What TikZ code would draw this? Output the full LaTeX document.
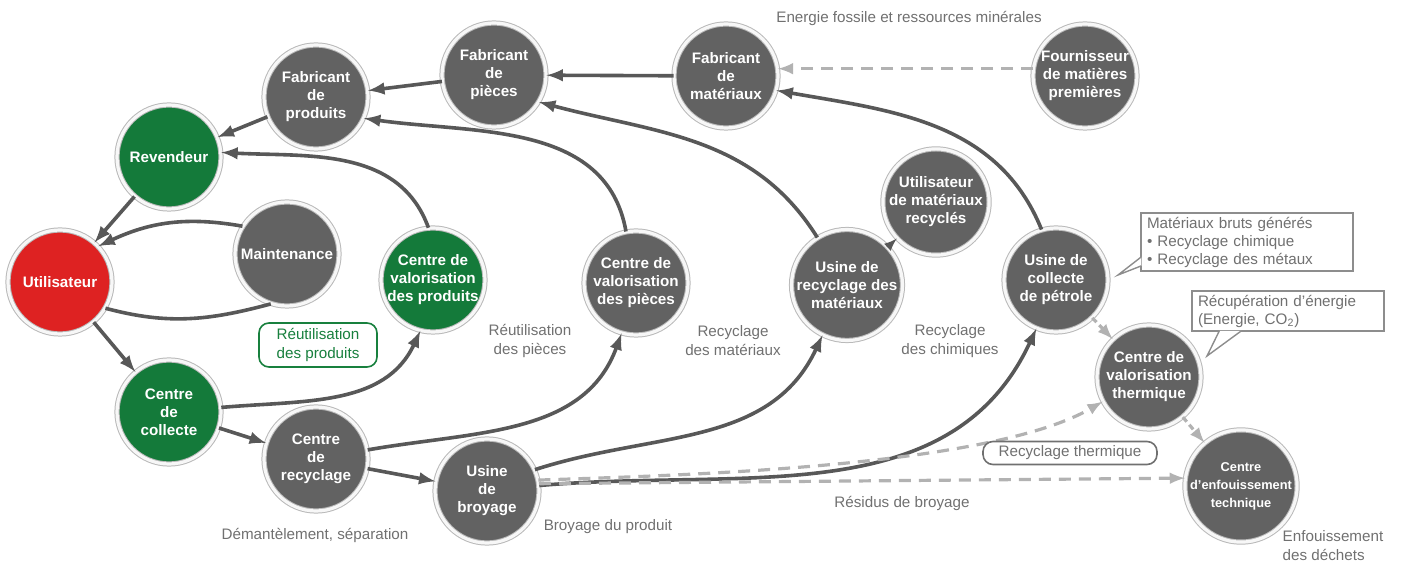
\documentclass[tikz,border=0pt]{standalone}
\usepackage{fontspec}
\setmainfont{Liberation Sans}
\usepackage{tikz}
\usetikzlibrary{arrows,calc}
\definecolor{nodegray}{RGB}{98,98,98}
\definecolor{nodegreen}{RGB}{20,122,58}
\definecolor{nodered}{RGB}{222,34,34}
\definecolor{linkgray}{RGB}{88,88,88}
\definecolor{dashgray}{RGB}{178,178,178}
\definecolor{labelgray}{RGB}{112,112,112}
\definecolor{labelgreen}{RGB}{24,128,62}
\tikzset{
  actor/.style={circle, minimum size=52pt, inner sep=0pt, fill=nodegray, draw=gray!55, line width=0.5pt, double=gray!6, double distance=1.6pt, text=white, font=\bfseries\fontsize{7.6}{9}\selectfont, align=center},
  greenactor/.style={actor, fill=nodegreen},
  redactor/.style={actor, fill=nodered},
  flow/.style={->, >=latex, color=linkgray, line width=1.8pt},
  weakflow/.style={->, >=latex, color=dashgray, line width=1.6pt, dash pattern=on 6pt off 4pt},
  note/.style={text=labelgray, font=\fontsize{7.6}{9.5}\selectfont, align=center},
  callout/.style={draw=labelgray!80, line width=0.7pt, fill=white, text=labelgray, font=\fontsize{7.6}{9}\selectfont, align=left, inner xsep=3pt, inner ysep=2pt},
  tagbox/.style={rounded corners=5pt, line width=0.8pt, fill=white, font=\fontsize{7.6}{9.5}\selectfont, align=center, inner sep=1pt}
}
\begin{document}
\begin{tikzpicture}[x=0.5pt, y=0.5pt]
\useasboundingbox (0,0) rectangle (1402,562);
\node[actor] (fabprod) at (316,465) {Fabricant\\de\\produits};
\node[actor] (fabpieces) at (494,487) {Fabricant\\de\\pièces};
\node[actor] (fabmat) at (726,486) {Fabricant\\de\\matériaux};
\node[actor] (fournisseur) at (1085,486) {Fournisseur\\de matières\\premières};
\node[greenactor] (revendeur) at (169,405) {Revendeur};
\node[redactor] (utilisateur) at (60,280) {Utilisateur};
\node[actor] (maintenance) at (287,308) {Maintenance};
\node[greenactor] (valprod) at (433,282) {Centre de\\valorisation\\des produits};
\node[greenactor] (collecte) at (169,150) {Centre\\de\\collecte};
\node[actor] (recyclage) at (316,103) {Centre\\de\\recyclage};
\node[actor] (broyage) at (487,71) {Usine\\de\\broyage};
\node[actor] (valpieces) at (636,279) {Centre de\\valorisation\\des pièces};
\node[actor] (usinemat) at (847,277) {Usine de\\recyclage des\\matériaux};
\node[actor] (utilmat) at (936,360) {Utilisateur\\de matériaux\\recyclés};
\node[actor] (petrole) at (1056,282) {Usine de\\collecte\\de pétrole};
\node[actor] (thermique) at (1149,185) {Centre de\\valorisation\\thermique};
\node[actor, font=\bfseries\fontsize{6.4}{9}\selectfont] (enfouis) at (1241,76) {Centre\\d’enfouissement\\technique};

\path[flow]
  (fabmat) edge (fabpieces)
  (fabpieces) edge (fabprod)
  (fabprod) edge (revendeur)
  (revendeur) edge (utilisateur)
  (maintenance.148) edge[out=170, in=25] (utilisateur.43)
  (utilisateur.-30) edge[-, out=-15, in=195] (maintenance.-108)
  (utilisateur) edge (collecte)
  (collecte.5) edge[out=5, in=-115] (valprod.-104)
  (valprod.95) edge[out=110, in=-3] (revendeur.5)
  (collecte) edge (recyclage)
  (recyclage) edge (broyage)
  (recyclage.10) edge[out=10, in=-110] (valpieces.-106)
  (valpieces.101) edge[out=100, in=-8] (fabprod.-24)
  (broyage.24) edge[out=18, in=-115] (usinemat.-116)
  (usinemat.122) edge[out=122, in=-15] (fabpieces.-31)
  (usinemat) edge[line width=1.2pt] (utilmat)
  (broyage.6) edge[out=5, in=-115] (petrole.-112)
  (petrole.106) edge[out=112, in=-10] (fabmat.-16);

\path[weakflow]
  (fournisseur.172) edge (fabmat.8)
  (petrole) edge[dash pattern=on 3pt off 2pt] (thermique)
  (thermique) edge[dash pattern=on 3pt off 2pt] (enfouis)
  (broyage.12) edge[out=2, in=-150, looseness=0.6] (thermique.-152)
  (broyage.8) edge (enfouis.172);

\node[note] (energie) at (909,544) {Energie fossile et ressources minérales};
\node[note] (reutpieces) at (530,221) {Réutilisation\\des pièces};
\node[note] (recmat) at (733,221) {Recyclage\\des matériaux};
\node[note] (recchim) at (950,221) {Recyclage\\des chimiques};
\node[note] (demant) at (315,27) {Démantèlement, séparation};
\node[note] (broyprod) at (608,35) {Broyage du produit};
\node[note] (residus) at (902,59) {Résidus de broyage};
\node[note, align=left] (enfdechets) at (1333,16) {Enfouissement\\des déchets};
\node[tagbox, draw=labelgreen, text=labelgreen, minimum width=59pt, minimum height=22pt] (reutprod) at (318,217) {Réutilisation\\des produits};
\node[tagbox, draw=labelgray, text=labelgray, minimum width=87pt, minimum height=11.5pt] (recthermique) at (1070,109) {Recyclage thermique};

\node[callout, text width=100pt] (matbox) at (1247,320) {Matériaux bruts générés\\• Recyclage chimique\\• Recyclage des métaux};
\draw[callout] ($(matbox.south west)+(1,15)$) -- (1118,287) -- ($(matbox.south west)+(1,6)$);
\node[callout, text width=90pt] (recbox) at (1288,251) {Récupération d’énergie\\(Energie, CO\textsubscript{2})};
\draw[callout] ($(recbox.south west)+(28,1)$) -- (1207,206) -- ($(recbox.south west)+(50,1)$);
\end{tikzpicture}
\end{document}
